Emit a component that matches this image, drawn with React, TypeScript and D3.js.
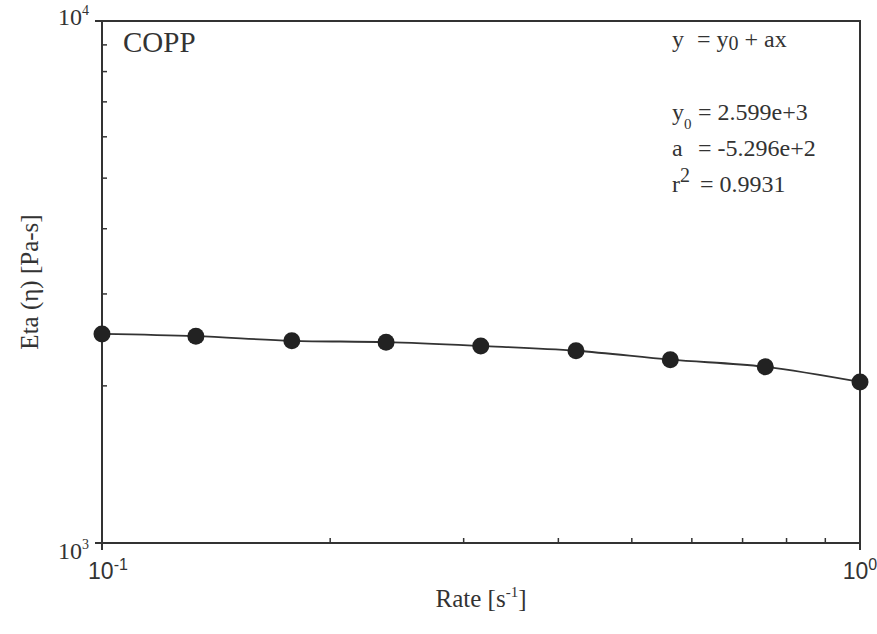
import * as d3 from "d3";

const rates = [0.1, 0.133, 0.178, 0.237, 0.316, 0.422, 0.562, 0.75, 1.0];
const eta = [2515, 2490, 2440, 2425, 2385, 2335, 2245, 2175, 2035];
const fitLines = [
  { lhs: "y", sub: "0", rhs: "= 2.599e+3" },
  { lhs: "a", sub: "", rhs: "= -5.296e+2" },
];
const r2Text = "= 0.9931";

const W = 877;
const H = 634;
const margin = { top: 21, right: 17, bottom: 91, left: 102 };
const serif = "'Liberation Serif', 'Times New Roman', serif";
const sans = "'Liberation Sans', Arial, sans-serif";
const ink = "#333";

export default function App() {
  const x = d3
    .scaleLog()
    .domain([0.1, 1])
    .range([margin.left, W - margin.right]);
  const y = d3
    .scaleLog()
    .domain([1000, 10000])
    .range([H - margin.bottom, margin.top]);

  const pts = rates.map((r, i) => [r, eta[i]] as [number, number]);
  const line = d3
    .line<[number, number]>()
    .x((d) => x(d[0]))
    .y((d) => y(d[1]))
    .curve(d3.curveMonotoneX);

  const x0 = margin.left;
  const x1 = W - margin.right;
  const y0 = H - margin.bottom;
  const y1 = margin.top;

  // minor ticks
  const xMinor = d3.range(2, 10).map((k) => k / 10);
  const yMinor = d3.range(2, 10).map((k) => k * 1000);

  return (
    <svg
      width={W}
      height={H}
      style={{ position: "absolute", left: 0, top: 0, background: "#fff" }}
    >
      {/* frame */}
      <rect
        x={x0}
        y={y1}
        width={x1 - x0}
        height={y0 - y1}
        fill="none"
        stroke={ink}
        strokeWidth={2}
      />
      {/* major ticks, outward */}
      <line x1={x0} x2={x0 - 7} y1={y(1000)} y2={y(1000)} stroke={ink} strokeWidth={2} />
      <line x1={x0} x2={x0 - 7} y1={y(10000)} y2={y(10000)} stroke={ink} strokeWidth={2} />
      <line x1={x(0.1)} x2={x(0.1)} y1={y0} y2={y0 + 7} stroke={ink} strokeWidth={2} />
      <line x1={x(1)} x2={x(1)} y1={y0} y2={y0 + 7} stroke={ink} strokeWidth={2} />
      {/* minor ticks, inward */}
      {xMinor.map((v) => (
        <line key={"xm" + v} x1={x(v)} x2={x(v)} y1={y0} y2={y0 - 5} stroke={ink} strokeWidth={1.5} />
      ))}
      {yMinor.map((v) => (
        <line key={"ym" + v} x1={x0} x2={x0 + 5} y1={y(v)} y2={y(v)} stroke={ink} strokeWidth={1.5} />
      ))}

      {/* y tick labels */}
      {[3, 4].map((p) => (
        <text
          key={"yl" + p}
          x={x0 - 13}
          y={y(Math.pow(10, p)) + (p === 3 ? 16 : 4)}
          textAnchor="end"
          fontFamily={serif}
          fontSize={24}
          fill={ink}
        >
          10
          <tspan fontSize={14} dy={-10}>
            {p}
          </tspan>
        </text>
      ))}
      {/* x tick labels */}
      {[-1, 0].map((p) => (
        <text
          key={"xl" + p}
          x={x(Math.pow(10, p)) + (p === -1 ? 6 : 0)}
          y={y0 + 36}
          textAnchor="middle"
          fontFamily={sans}
          fontSize={23}
          fill={ink}
        >
          10
          <tspan fontSize={16} dy={-9}>
            {p}
          </tspan>
        </text>
      ))}

      {/* axis titles */}
      <text
        x={(x0 + x1) / 2}
        y={H - 27}
        textAnchor="middle"
        fontFamily={serif}
        fontSize={25}
        fill={ink}
      >
        Rate [s
        <tspan fontSize={15} dy={-10}>
          -1
        </tspan>
        <tspan dy={10}>]</tspan>
      </text>
      <text
        transform={`translate(38,${(y0 + y1) / 2}) rotate(-90)`}
        textAnchor="middle"
        fontFamily={serif}
        fontSize={25}
        fill={ink}
      >
        Eta (η) [Pa-s]
      </text>

      {/* data */}
      <path d={line(pts) ?? ""} fill="none" stroke={ink} strokeWidth={1.8} />
      {pts.map((d, i) => (
        <circle key={i} cx={x(d[0])} cy={y(d[1])} r={8.5} fill="#222" />
      ))}

      {/* annotations */}
      <text x={123} y={52} fontFamily={serif} fontSize={29} fill={ink}>
        COPP
      </text>
      <g fontFamily={serif} fontSize={24} fill={ink}>
        <text x={672} y={47}>
          y
        </text>
        <text x={697} y={47}>
          = y
          <tspan fontSize={20} dy={3}>
            0
          </tspan>
          <tspan dy={-3}> + ax</tspan>
        </text>
        {fitLines.map((f, i) => (
          <g key={f.lhs}>
            <text x={672} y={120 + i * 36}>
              {f.lhs}
              {f.sub && (
                <tspan fontSize={15} dy={9}>
                  {f.sub}
                </tspan>
              )}
            </text>
            <text x={698} y={120 + i * 36}>
              {f.rhs}
            </text>
          </g>
        ))}
        <text x={672} y={192}>
          r
          <tspan fontSize={20} dy={-10}>
            2
          </tspan>
        </text>
        <text x={700} y={192}>
          {r2Text}
        </text>
      </g>
    </svg>
  );
}
